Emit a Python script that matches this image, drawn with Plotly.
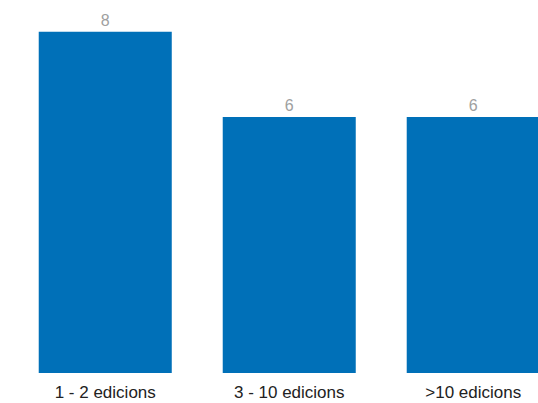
import plotly.graph_objects as go

categories = ["1 - 2 edicions", "3 - 10 edicions", ">10 edicions"]
values = [8, 6, 6]

fig = go.Figure(
    go.Bar(
        x=categories,
        y=values,
        marker=dict(color="#0070b8", line=dict(width=0)),
        text=[str(v) for v in values],
        textposition="outside",
        textfont=dict(color="#a0a0a0", size=16),
        cliponaxis=False,
        hoverinfo="skip",
    )
)

fig.update_layout(
    width=538,
    height=403,
    margin=dict(l=0, r=0, t=0, b=30),
    paper_bgcolor="white",
    plot_bgcolor="white",
    bargap=0.277,
    showlegend=False,
    font=dict(family="Liberation Sans, Arial, Helvetica, sans-serif", size=17, color="#222222"),
    xaxis=dict(
        type="category",
        range=[-0.572, 2.352],
        showgrid=False,
        showline=False,
        zeroline=False,
        ticks="",
        ticklabelstandoff=7,
        tickfont=dict(size=17, color="#222222"),
    ),
    yaxis=dict(
        range=[0, 8.742],
        visible=False,
        showgrid=False,
        zeroline=False,
    ),
)

fig.write_html(
    "out.html",
    config={"displayModeBar": False, "staticPlot": True},
    post_script="document.body.style.margin='0';",
)
